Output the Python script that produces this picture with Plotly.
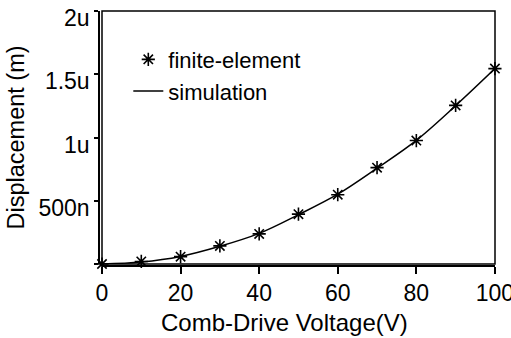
import plotly.graph_objects as go

# Data
voltage = [0, 10, 20, 30, 40, 50, 60, 70, 80, 90, 100]
fe_displacement = [0.0, 0.02e-6, 0.058e-6, 0.143e-6, 0.238e-6, 0.394e-6,
                   0.548e-6, 0.762e-6, 0.976e-6, 1.254e-6, 1.545e-6]
sim_voltage = [0, 10, 20, 30, 40, 50, 60, 70, 80, 90, 100]
sim_displacement = [0.0, 0.016e-6, 0.060e-6, 0.140e-6, 0.242e-6, 0.390e-6,
                    0.552e-6, 0.758e-6, 0.978e-6, 1.252e-6, 1.545e-6]

x_ticks = [0, 20, 40, 60, 80, 100]
y_ticks = [0, 0.5e-6, 1.0e-6, 1.5e-6, 2.0e-6]
y_ticktext = ["", "500n", "1u", "1.5u", "2u"]

FONT = "Liberation Sans, Arial, Helvetica, sans-serif"

fig = go.Figure()
fig.add_trace(go.Scatter(
    x=voltage, y=fe_displacement, mode="markers", name="finite-element",
    marker=dict(symbol="asterisk-open", size=11, color="black",
                line=dict(color="black", width=1.6)),
    cliponaxis=False,
))
fig.add_trace(go.Scatter(
    x=sim_voltage, y=sim_displacement, mode="lines", name="simulation",
    line=dict(color="black", width=1.5, shape="spline"),
    cliponaxis=False,
))

fig.update_layout(
    width=511, height=338,
    margin=dict(l=99, r=16, t=11, b=72, autoexpand=False),
    paper_bgcolor="white", plot_bgcolor="white",
    font=dict(family=FONT, size=23, color="black"),
    showlegend=True,
    legend=dict(x=0.074, y=0.892, xanchor="left", yanchor="top",
                bgcolor="rgba(0,0,0,0)", font=dict(size=22),
                tracegroupgap=0),
    xaxis=dict(
        domain=[3 / 396, 1], range=[-0.0001, 100.02], anchor="free", position=0,
        tickvals=x_ticks, ticks="outside", ticklen=7, tickwidth=1.5,
        tickcolor="black", showline=True, linecolor="black", linewidth=1.5,
        showgrid=False, zeroline=False, ticklabeloverflow="allow",
        automargin=False,
    ),
    yaxis=dict(
        domain=[2 / 255, 1], range=[-1e-12, 2.0004e-6], anchor="free", position=0,
        tickvals=y_ticks, ticktext=y_ticktext, ticks="outside", ticklen=4,
        tickwidth=1.5, tickcolor="black", showline=True, linecolor="black",
        linewidth=1.5, showgrid=False, zeroline=False, ticklabeloverflow="allow",
        automargin=False, ticklabelshift=7,
        title=dict(text="Displacement (m)", font=dict(size=23.5), standoff=6),
    ),
    annotations=[dict(text="Comb-Drive Voltage(V)", xref="paper", yref="paper",
                      x=(284.5 - 99) / 396, y=(266 - 322) / 255,
                      xanchor="center", yanchor="middle", showarrow=False,
                      font=dict(size=24))],
    shapes=[dict(type="rect", xref="x domain", yref="y domain",
                 x0=0, x1=1, y0=0, y1=1, line=dict(color="black", width=1.5),
                 layer="above")],
)

fig.write_html("out.html")
